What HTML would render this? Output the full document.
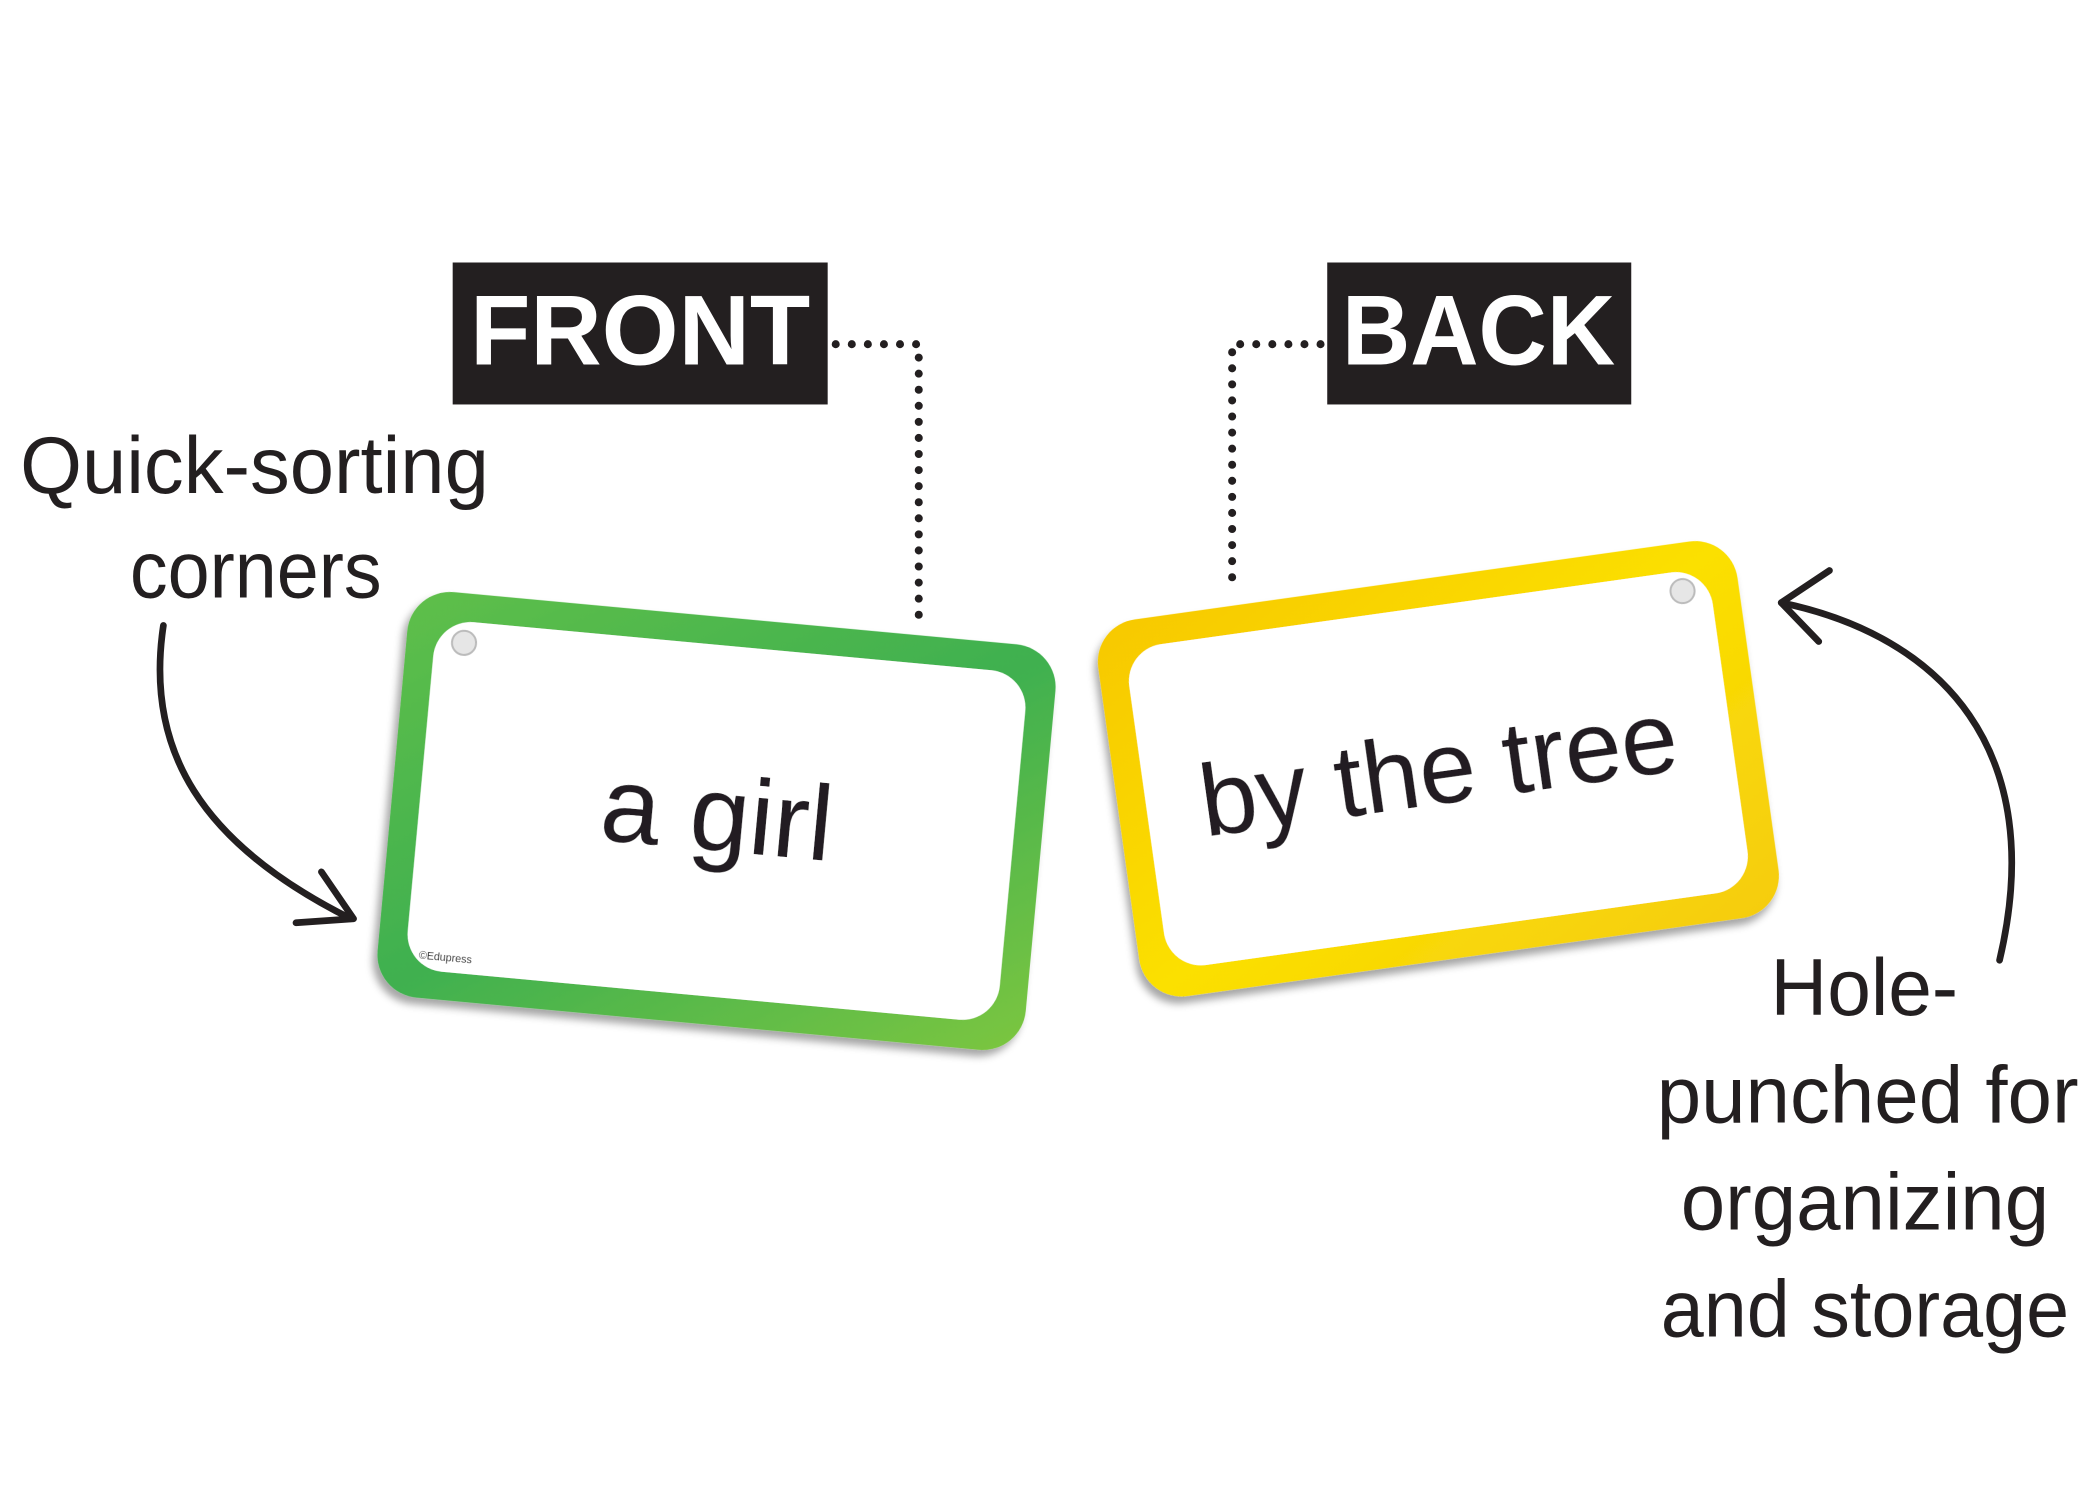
<!DOCTYPE html>
<html><head><meta charset="utf-8"><style>
html,body{margin:0;padding:0;background:#fff;width:2100px;height:1500px;overflow:hidden}
svg{display:block}
</style></head><body>
<svg width="2100" height="1500" viewBox="0 0 1568 1120" xmlns="http://www.w3.org/2000/svg" font-family="Liberation Sans, sans-serif">
<defs>
<linearGradient id="g" x1="0" y1="0" x2="1" y2="1">
<stop offset="0" stop-color="#5fbf4a"/><stop offset="0.5" stop-color="#3fb050"/><stop offset="1" stop-color="#7cc640"/>
</linearGradient>
<linearGradient id="y" x1="0" y1="0" x2="1" y2="1">
<stop offset="0" stop-color="#f7c800"/><stop offset="0.5" stop-color="#fbe000"/><stop offset="1" stop-color="#f5cc10"/>
</linearGradient>
<filter id="sh" x="-10%" y="-10%" width="130%" height="130%"><feDropShadow dx="-3" dy="5" stdDeviation="3" flood-color="#000" flood-opacity="0.35"/></filter>
</defs>

<rect x="338" y="196" width="280" height="106" fill="#231f20"/>
<text x="478" y="272" font-size="74" font-weight="bold" fill="#fff" text-anchor="middle" textLength="254" lengthAdjust="spacingAndGlyphs">FRONT</text>
<rect x="991" y="196" width="227" height="106" fill="#231f20"/>
<text x="1104" y="272" font-size="74" font-weight="bold" fill="#fff" text-anchor="middle" textLength="204" lengthAdjust="spacingAndGlyphs">BACK</text>

<path d="M624 257 H686 V468" fill="none" stroke="#231f20" stroke-width="6" stroke-linecap="round" stroke-dasharray="0 12"/>
<path d="M986 257 H920 V437" fill="none" stroke="#231f20" stroke-width="6" stroke-linecap="round" stroke-dasharray="0 12"/>

<g transform="translate(535,613) rotate(5.3)" filter="url(#sh)">
<rect x="-243" y="-152" width="486" height="304" rx="32" fill="url(#g)"/>
<rect x="-222" y="-131" width="444" height="262" rx="28" fill="#fff"/>
<circle cx="-200" cy="-115" r="9" fill="#e6e6e6" stroke="#bbb" stroke-width="1.5"/>
<text x="0" y="22" font-size="80" text-anchor="middle" fill="#231f20">a girl</text>
<text x="-212" y="123" font-size="8" fill="#333">©Edupress</text>
</g>

<g transform="translate(1074,574) rotate(-8)" filter="url(#sh)">
<rect x="-241" y="-142" width="482" height="284" rx="32" fill="url(#y)"/>
<rect x="-220" y="-121" width="440" height="242" rx="28" fill="#fff"/>
<circle cx="199" cy="-106" r="9" fill="#e6e6e6" stroke="#bbb" stroke-width="1.5"/>
<text x="0" y="26" font-size="76" text-anchor="middle" fill="#231f20">by the tree</text>
</g>

<g fill="#231f20" font-size="60">
<text x="15" y="368" textLength="350" lengthAdjust="spacingAndGlyphs">Quick-sorting</text>
<text x="97" y="446" textLength="188" lengthAdjust="spacingAndGlyphs">corners</text>
<text x="1322" y="758" textLength="140" lengthAdjust="spacingAndGlyphs">Hole-</text>
<text x="1237" y="838" textLength="315" lengthAdjust="spacingAndGlyphs">punched for</text>
<text x="1255" y="918" textLength="275" lengthAdjust="spacingAndGlyphs">organizing</text>
<text x="1240" y="998" textLength="305" lengthAdjust="spacingAndGlyphs">and storage</text>
</g>

<g fill="none" stroke="#231f20" stroke-width="5" stroke-linecap="round" stroke-linejoin="round">
<path d="M122 467 C108 560 150 630 262 686"/>
<path d="M240 651 L264 686 L221 689"/>
<path d="M1493 717 C1530 560 1450 475 1330 450"/>
<path d="M1366 426 L1330 450 L1358 479"/>
</g>
</svg>
</body></html>
